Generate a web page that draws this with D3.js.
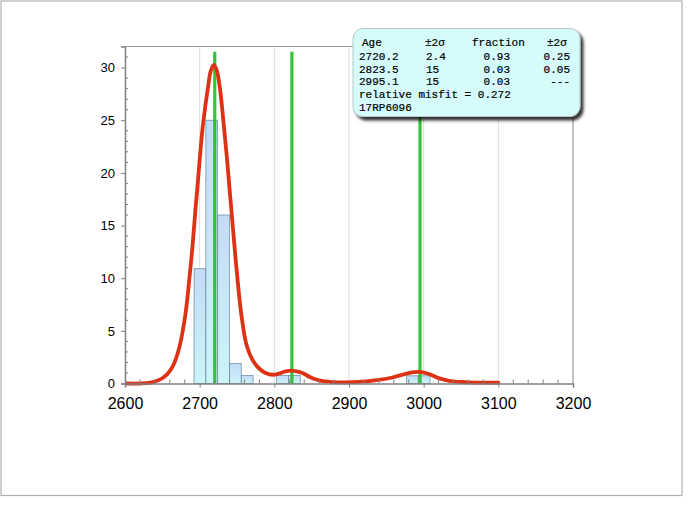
<!DOCTYPE html>
<html><head><meta charset="utf-8">
<script src="https://cdn.jsdelivr.net/npm/d3@7"></script>
<style>
html,body{margin:0;padding:0;background:#fff;}
svg{display:block;}
</style>
</head><body>
<svg id="chart" width="692" height="505"></svg>
<script>
// ---- data ----
const barLo = [2692.5, 2708.3, 2724.1, 2739.9, 2755.7, 2803.1, 2818.9, 2976.9, 2992.7];
const barHi = [2708.3, 2724.1, 2739.9, 2755.7, 2771.5, 2818.9, 2834.7, 2992.7, 3008.5];
const barCount = [10.9, 25, 16, 1.9, 0.76, 0.76, 0.76, 0.73, 0.73];

const curveX = [2600,2620,2632,2640,2650,2658,2665,2673,2681,2686,2690.6,2694.3,2696.7,2699.6,2704,2711.5,2715,2719,2723,2727,2732.5,2736.8,2740,2742.3,2746.3,2750.7,2755.7,2763,2771,2780,2789,2798,2806.5,2815,2823,2830,2837.6,2848.8,2860,2877.7,2895,2913,2940,2958,2976,2987,2995,3007,3020,3034,3056,3080,3100];
const curveY = [0,0,0.05,0.19,0.5,1.0,1.78,3.5,6.6,9.8,13.2,16.5,18.4,20.9,24.3,28.3,29.7,30.25,29.7,28.1,24.4,21.2,18.5,16.6,13.3,9.9,6.6,3.6,2.2,1.4,0.97,0.83,0.95,1.15,1.22,1.15,0.99,0.57,0.29,0.13,0.1,0.15,0.35,0.57,0.92,1.08,1.1,0.9,0.51,0.26,0.13,0.08,0.07];

const peakAges = [2720.2, 2823.5, 2995.1];
const peakHeight = [31.5, 31.5, 31.5];
const ageErr = ["2.4", "15", "15"];
const fractions = ["0.93", "0.03", "0.03"];
const fracErr = ["0.25", "0.05", "---"];
const misfitText = "relative misfit = 0.272";
const sampleName = "17RP6096";

const xTicks = [2600, 2700, 2800, 2900, 3000, 3100, 3200];
const yTicks = [0, 5, 10, 15, 20, 25, 30];

// ---- layout ----
const svg = d3.select("#chart");
const L = 125, R = 573, T = 46.5, B = 383.5;
const x = d3.scaleLinear().domain([2600, 3200]).range([L, R]);
const y = d3.scaleLinear().domain([0, 32]).range([B, T]);

// outer frame
svg.append("rect").attr("x", 1).attr("y", 1).attr("width", 681).attr("height", 494.5)
  .attr("fill", "#fff").attr("stroke", "#b0b0b0").attr("stroke-width", 1.2);

const defs = svg.append("defs");
const grad = defs.append("linearGradient").attr("id", "barGrad")
  .attr("x1", 0).attr("y1", 0).attr("x2", 0).attr("y2", 1);
grad.append("stop").attr("offset", "0%").attr("stop-color", "#c4dbf6");
grad.append("stop").attr("offset", "100%").attr("stop-color", "#cbf4f9");
const flt = defs.append("filter").attr("id", "shadow")
  .attr("x", "-10%").attr("y", "-10%").attr("width", "130%").attr("height", "140%");
flt.append("feDropShadow").attr("dx", 3).attr("dy", 3.5).attr("stdDeviation", 1.8)
  .attr("flood-color", "#000").attr("flood-opacity", 0.8);
defs.append("clipPath").attr("id", "plotClip").append("rect")
  .attr("x", L).attr("y", T).attr("width", R - L).attr("height", B - T + 3);

// gridlines
svg.append("g").selectAll("line").data(xTicks.slice(1, -1)).join("line")
  .attr("x1", d => x(d)).attr("x2", d => x(d)).attr("y1", T).attr("y2", B)
  .attr("stroke", "#dcdcdc").attr("stroke-width", 1);

// bars
const bars = barLo.map((d, i) => ({lo: d, hi: barHi[i], n: barCount[i]}));
svg.append("g").selectAll("rect").data(bars).join("rect")
  .attr("x", d => x(d.lo)).attr("width", d => x(d.hi) - x(d.lo))
  .attr("y", d => y(d.n)).attr("height", d => y(0) - y(d.n))
  .attr("fill", "url(#barGrad)").attr("stroke", "#5d7d95").attr("stroke-opacity", 0.8)
  .attr("stroke-width", 0.8);

// green peak lines
svg.append("g").selectAll("line").data(peakAges).join("line")
  .attr("x1", d => x(d)).attr("x2", d => x(d))
  .attr("y1", y(0)).attr("y2", (d, i) => y(peakHeight[i]))
  .attr("stroke", "#22bb22").attr("stroke-opacity", 0.9).attr("stroke-width", 3.2);

// red curve
const pts = curveX.map((d, i) => [d, curveY[i]]);
svg.append("path").datum(pts).attr("clip-path", "url(#plotClip)")
  .attr("d", d3.line().x(d => x(d[0])).y(d => y(Math.max(0, d[1]))).curve(d3.curveCatmullRom.alpha(0.5)))
  .attr("fill", "none").attr("stroke", "#dd3314").attr("stroke-width", 3.8)
  .attr("stroke-linejoin", "round").attr("stroke-linecap", "round");

// axes box
const ax = svg.append("g").attr("stroke-width", 1.2).attr("fill", "none");
ax.append("line").attr("x1", L).attr("x2", R).attr("y1", T).attr("y2", T).attr("stroke", "#999");
ax.append("line").attr("x1", R).attr("x2", R).attr("y1", T).attr("y2", B).attr("stroke", "#999");

// x axis
const xAxis = svg.append("g").attr("transform", `translate(0,${B})`)
  .call(d3.axisBottom(x).tickValues(xTicks).tickSize(4).tickPadding(10).tickFormat(d3.format("d")));
xAxis.select(".domain").attr("stroke", "#808080").attr("stroke-width", 1.5);
xAxis.selectAll(".tick line").attr("stroke", "#808080");
xAxis.selectAll("text").attr("font-family", "Liberation Sans, Arial, sans-serif")
  .attr("font-size", 16).attr("fill", "#000");
svg.append("g").selectAll("line")
  .data(d3.range(2620, 3200, 20).filter(v => v % 100 !== 0)).join("line")
  .attr("x1", d => x(d)).attr("x2", d => x(d)).attr("y1", B).attr("y2", B - 4)
  .attr("stroke", "#808080").attr("stroke-width", 1);

// y axis
const yAxis = svg.append("g").attr("transform", `translate(${L},0)`)
  .call(d3.axisLeft(y).tickValues(yTicks).tickSize(4).tickPadding(6));
yAxis.select(".domain").attr("stroke", "#808080").attr("stroke-width", 1.5);
yAxis.selectAll(".tick line").attr("stroke", "#808080");
yAxis.selectAll("text").attr("font-family", "Liberation Sans, Arial, sans-serif")
  .attr("font-size", 13).attr("fill", "#000");
svg.append("g").selectAll("line")
  .data(d3.range(1, 32, 1).filter(v => v % 5 !== 0)).join("line")
  .attr("x1", L).attr("x2", L + 3).attr("y1", d => y(d)).attr("y2", d => y(d))
  .attr("stroke", "#808080").attr("stroke-width", 1);

// legend box
const lg = svg.append("g");
lg.append("rect").attr("x", 353).attr("y", 28.5).attr("width", 227).attr("height", 88)
  .attr("rx", 10).attr("ry", 10)
  .attr("fill", "#d5fbfb").attr("stroke", "#b8c8c8").attr("stroke-width", 1)
  .attr("filter", "url(#shadow)");
const mono = "Liberation Mono, Courier New, monospace";
const txt = (s, tx, ty, anchor) => lg.append("text").attr("x", tx).attr("y", ty)
  .attr("text-anchor", anchor || "start").attr("font-family", mono).attr("font-size", 11)
  .attr("fill", "#000").attr("stroke", "#000").attr("stroke-width", 0.2).text(s);
txt("Age", 362, 45.5);
txt("±2σ", 425, 45.5);
txt("fraction", 472, 45.5);
txt("±2σ", 547, 45.5);
peakAges.forEach((a, i) => {
  const ty = 60 + i * 12.7;
  txt(a.toFixed(1), 359, ty);
  txt(ageErr[i], 426, ty);
  txt(fractions[i], 510, ty, "end");
  txt(fracErr[i], 570, ty, "end");
});
txt(misfitText, 359, 98.2);
txt(sampleName, 359, 110.8);
</script>
</body></html>
